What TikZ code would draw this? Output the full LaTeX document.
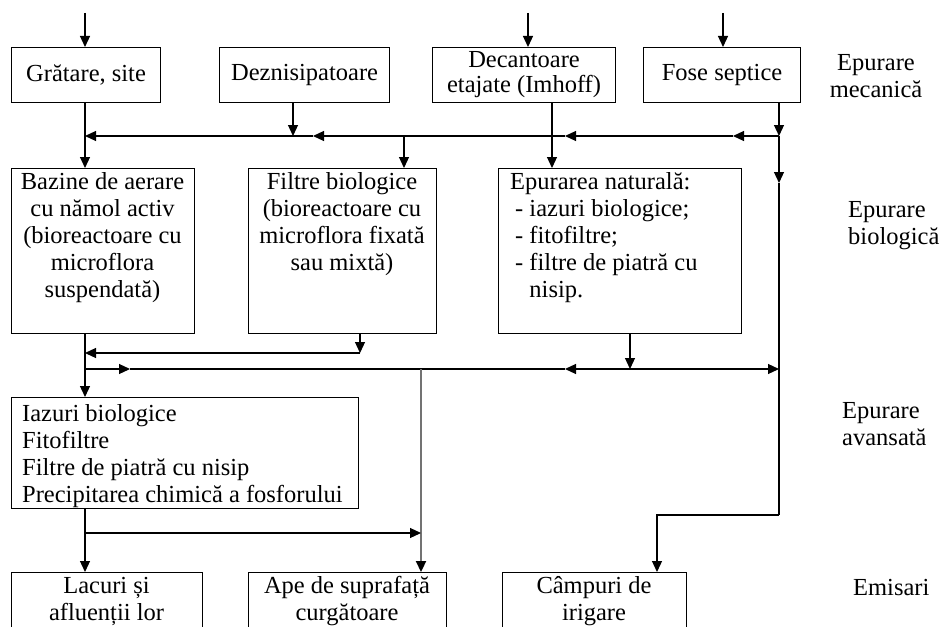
\documentclass[tikz,border=0pt]{standalone}
\usepackage{fontspec}
\setmainfont{Liberation Serif}
\usetikzlibrary{arrows.meta}
\begin{document}
\begin{tikzpicture}[x=1pt,y=-1pt,
  box/.style={draw=black, line width=1.1pt, inner sep=0pt, anchor=north west},
  txt/.style={font=\fontsize{24.5pt}{27pt}\selectfont, inner sep=0pt},
  ln/.style={line width=1.2pt},
  arr/.style={ln, -{Triangle[length=11pt,width=10pt]}},
  grayarr/.style={line width=2.2pt, draw=black!55, -{Triangle[length=11pt,width=10pt,color=black]}}
]
\path[use as bounding box] (0,0) rectangle (941,626);
\clip (0,0) rectangle (941,626);

% ---- boxes: mechanical stage
\node[box, txt, minimum width=149pt, minimum height=55pt] (grat) at (11,47) {Grătare, site};
\node[box, txt, minimum width=170pt, minimum height=55pt] (dezn) at (219,47) {Deznisipatoare};
\node[box, txt, minimum width=183pt, minimum height=55pt, align=center,
      font=\fontsize{24.5pt}{25pt}\selectfont] (decan) at (432,47) {Decantoare\\etajate (Imhoff)};
\node[box, txt, minimum width=157pt, minimum height=55pt] (fose) at (643,47) {Fose septice};

% ---- boxes: biological stage
\node[box, minimum width=183pt, minimum height=165pt] (baz) at (11,168) {};
\node[box, minimum width=188pt, minimum height=165pt] (filt) at (248,168) {};
\node[box, minimum width=243pt, minimum height=165pt] (natur) at (498,168) {};
\node[txt, align=center, anchor=base] (bazt) at (102.5,297) {Bazine de aerare\\cu nămol activ\\(bioreactoare cu\\microflora\\suspendată)};
\node[txt, align=center, anchor=base] (filtt) at (342,270) {Filtre biologice\\(bioreactoare cu\\microflora fixată\\sau mixtă)};
\node[txt, align=left, anchor=base west] (naturt) at (510,297) {Epurarea naturală:\\\hspace*{5pt}- iazuri biologice;\\\hspace*{5pt}- fitofiltre;\\\hspace*{5pt}- filtre de piatră cu\\\hspace*{5pt}\phantom{-\ }nisip.};

% ---- box: advanced stage
\node[box, minimum width=347pt, minimum height=111pt] (iaz) at (11,397) {};
\node[txt, align=left, anchor=base west] (iazt) at (22,502) {Iazuri biologice\\Fitofiltre\\Filtre de piatră cu nisip\\Precipitarea chimică a fosforului};

% ---- boxes: receivers
\node[box, minimum width=191pt, minimum height=75pt] (lac) at (11,572) {};
\node[box, minimum width=198pt, minimum height=75pt] (ape) at (248,572) {};
\node[box, minimum width=184pt, minimum height=75pt] (camp) at (502,572) {};
\node[txt, align=center, anchor=base] (lact) at (106.5,620) {Lacuri și\\afluenții lor};
\node[txt, align=center, anchor=base] (apet) at (347,620) {Ape de suprafață\\curgătoare};
\node[txt, align=center, anchor=base] (campt) at (594,620) {Câmpuri de\\irigare};

% ---- stage labels
\node[txt, align=center, anchor=base] (lmec) at (876,97) {Epurare\\mecanică};
\node[txt, align=left, anchor=base west] (lbio) at (848,244) {Epurare\\biologică};
\node[txt, align=left, anchor=base west] (lav) at (842,445) {Epurare\\avansată};
\node[txt, align=left, anchor=base west] (lem) at (853,595) {Emisari};

% ---- coordinates
\coordinate (in1) at (85,13);
\coordinate (in3) at (528,13);
\coordinate (in4) at (723,13);
\coordinate (jA) at (85,136);
\coordinate (jB) at (293,136);
\coordinate (jC) at (404,136);
\coordinate (jD) at (552,136);
\coordinate (jE) at (779,136);
\coordinate (t1) at (733,136);
\coordinate (t2) at (565,136);
\coordinate (t3) at (313,136);
\coordinate (r1) at (779,183);
\coordinate (r2) at (779,515);
\coordinate (r3) at (657,515);
\coordinate (kA) at (85,353);
\coordinate (kB) at (360,353);
\coordinate (lA) at (85,369);
\coordinate (lT1) at (130,369);
\coordinate (lG) at (421,369);
\coordinate (lT2) at (565,369);
\coordinate (lN) at (630,369);
\coordinate (lE) at (779,369);
\coordinate (bA) at (85,533);
\coordinate (bG) at (421,533);

% ---- inflows
\draw[arr] (in1) -- (in1 |- grat.north);
\draw[arr] (in3) -- (in3 |- decan.north);
\draw[arr] (in4) -- (in4 |- fose.north);

% ---- mechanical collector
\draw[arr] (grat.south -| jA) -- (jA |- baz.north);
\draw[arr] (dezn.south -| jB) -- (jB);
\draw[arr] (decan.south -| jD) -- (jD |- natur.north);
\draw[arr] (fose.south -| jE) -- (jE);
\draw[arr] (jE) -- (t1);
\draw[arr] (t1) -- (t2);
\draw[arr] (t2) -- (t3);
\draw[arr] (t3) -- (jA);
\draw[arr] (jC) -- (jC |- filt.north);

% ---- right bypass to irrigation
\draw[arr] (jE) -- (r1);
\draw[ln] (r1) -- (r2);
\draw[arr] (r2) -- (r3) -- (r3 |- camp.north);

% ---- biological outputs
\draw[arr] (filt.south -| kB) -- (kB);
\draw[arr] (kB) -- (kA);
\draw[arr] (baz.south -| kA) -- (kA |- iaz.north);
\draw[arr] (lA) -- (lT1);
\draw[ln] (lT1) -- (lG);
\draw[ln] (lT2) -- (lG);
\draw[arr] (lN) -- (lT2);
\draw[arr] (lN) -- (lE);
\draw[arr] (natur.south -| lN) -- (lN);
\draw[grayarr] (lG) -- (lG |- ape.north);

% ---- advanced outputs
\draw[arr] (iaz.south -| bA) -- (bA |- lac.north);
\draw[arr] (bA) -- (bG);
\end{tikzpicture}
\end{document}
